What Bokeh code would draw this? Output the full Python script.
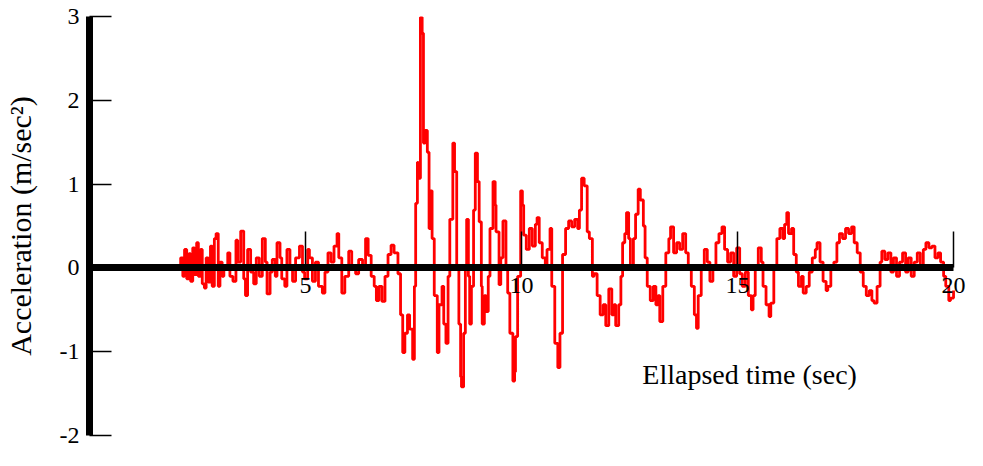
from bokeh.plotting import figure
from bokeh.models import Range1d, FixedTicker, Label
from bokeh.embed import file_html
from bokeh.resources import INLINE

# ---- data (time in s, acceleration in m/s^2) ----
t_pre = [0.00, 0.30, 0.60, 0.90, 1.20, 1.50, 1.80, 2.05]
a_pre = [0.00, 0.01, -0.01, 0.01, 0.00, 0.02, -0.01, 0.01]

t_onset = [2.11, 2.16, 2.20, 2.25, 2.30, 2.34, 2.39, 2.43, 2.48, 2.52, 2.57,
           2.61, 2.66, 2.70, 2.75, 2.80, 2.84, 2.89, 2.93, 2.98, 3.02, 3.07]
a_onset = [0.12, -0.10, 0.22, -0.13, 0.17, -0.16, 0.24, -0.08, 0.30, -0.10, 0.22,
           -0.19, -0.24, 0.12, -0.17, 0.26, -0.22, 0.35, 0.41, -0.22, 0.07, -0.10]

t_early = [3.11, 3.20, 3.25, 3.32, 3.39, 3.43, 3.50, 3.57, 3.61, 3.66, 3.73,
           3.80, 3.86, 3.93, 4.00, 4.07, 4.11, 4.18, 4.23, 4.30, 4.34, 4.41,
           4.45, 4.52, 4.57, 4.64, 4.70, 4.77, 4.86, 4.93, 4.98]
a_early = [-0.01, 0.18, -0.10, -0.16, 0.33, 0.07, 0.44, -0.13, -0.33, 0.22, -0.05,
           -0.19, 0.12, -0.10, 0.35, 0.07, -0.31, -0.05, 0.10, -0.10, 0.30, 0.12,
           -0.13, -0.22, 0.22, -0.01, -0.16, 0.12, 0.26, -0.05, -0.13]

t_main = [5.05, 5.09, 5.16, 5.23, 5.30, 5.39, 5.45, 5.52, 5.59, 5.66,
          5.73, 5.77, 5.84, 5.91, 6.00, 6.07, 6.16, 6.23, 6.32, 6.39,
          6.45, 6.52, 6.59, 6.64, 6.70, 6.77, 6.84, 6.91, 6.98, 7.05,
          7.14, 7.20, 7.25, 7.30, 7.36, 7.41, 7.48, 7.52, 7.55, 7.59,
          7.61, 7.66, 7.70, 7.73, 7.77, 7.82, 7.86, 7.89, 7.93, 7.98,
          8.05, 8.09, 8.16, 8.20, 8.25, 8.30, 8.34, 8.41, 8.45]
a_main = [0.22, 0.12, -0.16, 0.07, -0.22, -0.30, -0.05, 0.18, 0.07, 0.26,
          0.41, 0.12, -0.30, -0.10, 0.20, 0.03, -0.07, 0.10, 0.01, 0.35,
          0.15, -0.10, -0.22, -0.39, -0.22, -0.40, -0.10, 0.16, 0.27, 0.18,
          -0.07, -0.56, -1.01, -0.78, -0.56, -0.73, -1.09, -0.22, 0.77, 1.26,
          1.07, 2.99, 2.80, 1.49, 1.64, 1.38, 0.47, 0.92, 0.35, -0.33,
          -1.01, -0.44, -0.22, -0.67, -0.90, -0.10, 0.58, 1.49, 1.15]

t_strong = [8.50, 8.55, 8.59, 8.61, 8.66, 8.70, 8.73, 8.77, 8.80, 8.84,
            8.89, 8.93, 8.98, 9.02, 9.07, 9.09, 9.14, 9.18, 9.23, 9.27,
            9.34, 9.39, 9.41, 9.48, 9.52, 9.57, 9.64, 9.68, 9.73, 9.80,
            9.84, 9.86, 9.91, 9.98, 10.02, 10.05, 10.11, 10.18, 10.25, 10.32,
            10.36, 10.41, 10.48, 10.55, 10.59, 10.66, 10.70, 10.77, 10.84, 10.89,
            10.95, 11.02, 11.09, 11.16, 11.23, 11.30, 11.34, 11.39, 11.45, 11.52,
            11.57, 11.64]
a_strong = [0.01, -0.67, -1.30, -1.42, -0.78, 0.01, 0.58, -0.10, -0.67, -0.22,
            0.69, 1.37, 1.03, 0.55, -0.22, -0.67, -0.33, -0.52, -0.10, 0.47,
            1.03, 0.75, 0.43, -0.20, 0.12, 0.56, 0.01, -0.30, -0.78, -1.35,
            -1.24, -0.82, -0.10, 0.92, 0.75, 0.39, 0.22, 0.47, 0.26, 0.52,
            0.60, 0.30, 0.12, 0.01, 0.22, 0.47, -0.22, -0.90, -1.19, -0.78,
            0.16, 0.47, 0.56, 0.49, 0.58, 0.47, 0.69, 1.07, 0.98, 0.43,
            0.35, -0.10]

t_late = [11.68, 11.75, 11.82, 11.89, 11.95, 12.02, 12.09, 12.14, 12.18, 12.25,
          12.30, 12.34, 12.39, 12.43, 12.48, 12.52, 12.59, 12.64, 12.70, 12.75,
          12.82, 12.86, 12.91, 12.98, 13.05, 13.11, 13.16, 13.20, 13.27, 13.34,
          13.41, 13.45, 13.52, 13.59, 13.66, 13.73, 13.80, 13.86, 13.93, 14.00,
          14.05, 14.09, 14.16, 14.23, 14.30, 14.36, 14.43, 14.50, 14.57, 14.64,
          14.70, 14.77, 14.84, 14.91, 14.98, 15.05]
a_late = [-0.07, -0.33, -0.56, -0.44, -0.69, -0.25, -0.56, -0.44, -0.69, -0.44,
          -0.10, 0.30, 0.41, 0.66, 0.35, 0.01, 0.35, 0.64, 0.94, 0.81,
          0.50, 0.12, -0.22, -0.39, -0.22, -0.44, -0.33, -0.64, -0.22, 0.18,
          0.35, 0.49, 0.18, 0.30, 0.22, 0.41, 0.18, 0.01, -0.22, -0.56,
          -0.72, -0.33, 0.01, 0.22, 0.07, -0.16, 0.01, 0.30, 0.41, 0.49,
          0.22, 0.07, 0.18, -0.10, 0.24, -0.07]

t_coda = [15.11, 15.18, 15.25, 15.32, 15.36, 15.41, 15.48, 15.55, 15.59, 15.66,
          15.73, 15.77, 15.84, 15.91, 15.98, 16.05, 16.09, 16.14, 16.18, 16.25,
          16.30, 16.36, 16.41, 16.48, 16.52, 16.59, 16.66, 16.73, 16.80, 16.84,
          16.91, 16.98, 17.05, 17.09, 17.16, 17.23, 17.30, 17.36, 17.43, 17.50,
          17.57, 17.64, 17.70, 17.77, 17.84, 17.91, 17.98, 18.05, 18.11, 18.16,
          18.23, 18.30, 18.34, 18.41, 18.48, 18.55, 18.61, 18.68, 18.75, 18.82,
          18.89, 18.95, 19.02, 19.09, 19.16, 19.23, 19.30, 19.36, 19.43, 19.50,
          19.57, 19.64, 19.70, 19.77, 19.82, 19.89, 19.93, 20.00]
a_coda = [-0.22, -0.05, -0.33, -0.50, -0.33, 0.01, 0.24, 0.07, -0.22, -0.44,
          -0.58, -0.42, -0.02, 0.35, 0.47, 0.35, 0.52, 0.66, 0.41, 0.47,
          0.16, -0.05, -0.22, -0.10, -0.30, -0.22, -0.05, 0.12, 0.22, 0.30,
          0.07, -0.16, -0.27, -0.22, 0.01, 0.07, 0.30, 0.41, 0.35, 0.47,
          0.41, 0.49, 0.30, 0.18, -0.05, -0.22, -0.33, -0.27, -0.39, -0.42,
          -0.22, 0.07, 0.20, 0.10, 0.18, -0.05, 0.12, -0.10, 0.07, 0.18,
          -0.05, 0.12, -0.10, 0.07, 0.18, 0.01, 0.22, 0.30, 0.24, 0.26,
          0.12, 0.18, 0.07, -0.10, -0.22, -0.39, -0.36, -0.27]

x_ticks = [5, 10, 15, 20]
x_tick_labels = ["5", "10", "15", "20"]
y_ticks = [-2, -1, 0, 1, 2, 3]
y_tick_labels = ["-2", "-1", "0", "1", "2", "3"]

t = t_pre + t_onset + t_early + t_main + t_strong + t_late + t_coda
acc = a_pre + a_onset + a_early + a_main + a_strong + a_late + a_coda
assert len(t) == len(acc)

SERIF = "Liberation Serif"

p = figure(width=967, height=450, x_range=Range1d(0, 20.3), y_range=Range1d(-2, 3),
           output_backend="svg", toolbar_location=None,
           min_border_left=84, min_border_right=1, min_border_top=16, min_border_bottom=15)
p.grid.visible = False
p.outline_line_color = None
p.background_fill_color = "white"

p.step(t, acc, mode="after", line_color="#ff0000", line_width=2.8)

xa = p.xaxis[0]
xa.fixed_location = 0
xa.bounds = (0, 20)
xa.ticker = FixedTicker(ticks=x_ticks)
xa.major_label_overrides = {v: s for v, s in zip(x_ticks, x_tick_labels)}
xa.axis_line_width = 7
xa.axis_line_color = "black"
xa.major_tick_in = 36
xa.major_tick_out = 0
xa.major_tick_line_width = 1.5
xa.major_tick_line_color = "black"
xa.minor_tick_line_color = None
xa.major_label_standoff = 10
xa.major_label_text_font = SERIF
xa.major_label_text_font_size = "24px"
xa.major_label_text_color = "black"

ya = p.yaxis[0]
ya.ticker = FixedTicker(ticks=y_ticks)
ya.major_label_overrides = {v: s for v, s in zip(y_ticks, y_tick_labels)}
ya.axis_line_width = 7
ya.axis_line_color = "black"
ya.major_tick_in = 22
ya.major_tick_out = 0
ya.major_tick_line_width = 1.5
ya.major_tick_line_color = "black"
ya.minor_tick_line_color = None
ya.major_label_standoff = 10
ya.major_label_text_font = SERIF
ya.major_label_text_font_size = "24px"
ya.major_label_text_color = "black"
ya.axis_label = "Acceleration (m/sec\u00b2)"
ya.axis_label_text_font = SERIF
ya.axis_label_text_font_size = "30px"
ya.axis_label_text_font_style = "normal"
ya.axis_label_text_color = "black"
ya.axis_label_standoff = 20

p.add_layout(Label(x=15.28, y=-1.27, text="Ellapsed time (sec)", text_align="center",
                   text_baseline="middle", text_font=SERIF, text_font_size="28px",
                   text_color="black"))

open("out.html", "w").write(file_html(p, INLINE))
